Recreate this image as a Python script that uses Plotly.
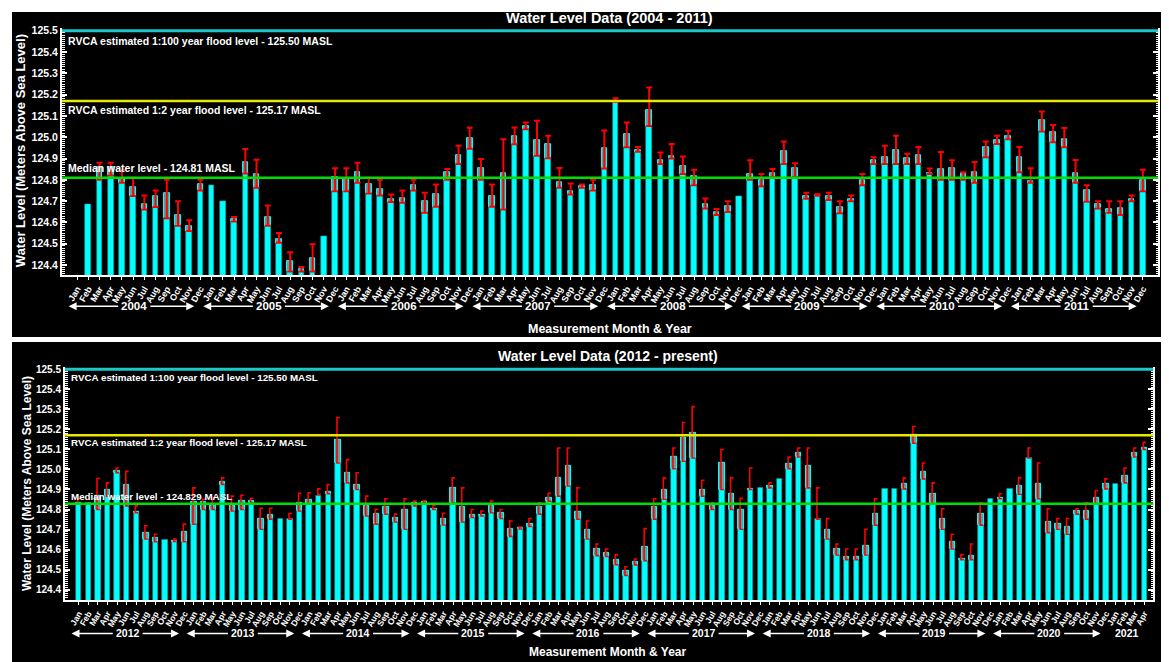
import plotly.graph_objects as go

MONTHS = ['Jan', 'Feb', 'Mar', 'Apr', 'May', 'Jun', 'Jul', 'Aug', 'Sep', 'Oct', 'Nov', 'Dec']

# ---------------- Panel A : 2004 - 2011 ----------------
years_a = [2004, 2005, 2006, 2007, 2008, 2009, 2010, 2011]
val_a = [
    None, 124.687, 124.86, 124.86, 124.81, 124.766, 124.688, 124.725, 124.736, 124.632, 124.584, 124.78,
    124.775, 124.70, 124.615, 124.883, 124.828, 124.626, 124.523, 124.417, 124.382, 124.433, 124.534, 124.814,
    124.81, 124.837, 124.78, 124.758, 124.711, 124.716, 124.775, 124.70, 124.731, 124.836, 124.917, 124.997,
    124.857, 124.725, 124.833, 125.005, 125.05, 124.987, 124.967, 124.79, 124.745, 124.77, 124.775, 124.951,
    125.17, 125.016, 124.937, 125.128, 124.892, 124.913, 124.864, 124.817, 124.687, 124.646, 124.677, 124.724,
    124.828, 124.799, 124.833, 124.934, 124.856, 124.724, 124.729, 124.721, 124.674, 124.711, 124.80, 124.892,
    124.907, 124.939, 124.901, 124.915, 124.833, 124.848, 124.856, 124.833, 124.837, 124.953, 124.987, 125.004,
    124.907, 124.794, 125.081, 125.023, 124.991, 124.833, 124.75, 124.688, 124.661, 124.666, 124.711, 124.80,
]
lo_a = [
    None, None, 124.80, 124.82, 124.786, 124.724, 124.661, 124.673, 124.62, 124.585, 124.56, 124.75,
    None, None, 124.604, 124.83, 124.763, 124.584, 124.505, 124.37, 124.37, 124.37, None, 124.747,
    124.747, 124.786, 124.736, 124.727, 124.696, 124.693, 124.75, 124.646, 124.674, 124.80, 124.875, 124.946,
    124.80, 124.674, 124.661, 124.967, 125.038, 124.913, 124.901, 124.763, 124.731, 124.763, 124.75, 124.853,
    125.165, 124.953, 124.932, 125.053, 124.875, 124.90, 124.828, 124.775, 124.666, 124.635, 124.649, None,
    124.80, 124.77, 124.814, 124.875, 124.814, 124.711, 124.725, 124.705, 124.643, 124.70, 124.775, 124.875,
    124.875, 124.875, 124.875, 124.875, 124.828, 124.80, 124.80, 124.80, 124.786, 124.906, 124.968, 124.991,
    124.836, 124.786, 125.027, 124.977, 124.953, 124.786, 124.697, 124.665, 124.646, 124.635, 124.70, 124.747,
]
hi_a = [
    None, None, 124.88, 124.88, 124.845, 124.81, 124.727, 124.75, 124.80, 124.70, 124.61, 124.80,
    None, None, 124.626, 124.945, 124.895, 124.68, 124.55, 124.46, 124.391, 124.498, None, 124.855,
    124.855, 124.88, 124.81, 124.80, 124.731, 124.75, 124.80, 124.739, 124.778, 124.851, 124.96, 125.045,
    124.898, 124.778, 124.991, 125.046, 125.069, 125.077, 125.007, 124.856, 124.783, 124.778, 124.80, 125.032,
    125.183, 125.069, 124.954, 125.234, 124.929, 124.968, 124.91, 124.848, 124.713, 124.663, 124.70, None,
    124.892, 124.828, 124.851, 124.98, 124.878, 124.739, 124.733, 124.739, 124.70, 124.727, 124.828, 124.906,
    124.96, 125.007, 124.923, 124.954, 124.853, 124.931, 124.892, 124.836, 124.884, 124.98, 125.007, 125.03,
    124.954, 124.855, 125.121, 125.057, 125.043, 124.893, 124.775, 124.70, 124.70, 124.70, 124.727, 124.848,
]

# ---------------- Panel B : 2012 - Apr 2021 ----------------
years_b = [2012, 2013, 2014, 2015, 2016, 2017, 2018, 2019, 2020, 2021]
val_b = [
    124.834, 124.834, 124.87, 124.90, 124.991, 124.922, 124.788, 124.682, 124.658, 124.649, 124.644, 124.689,
    124.84, 124.84, 124.82, 124.936, 124.818, 124.842, 124.842, 124.752, 124.773, 124.752, 124.752, 124.831,
    124.846, 124.867, 124.887, 125.148, 124.983, 124.925, 124.82, 124.777, 124.813, 124.757, 124.801, 124.831,
    124.837, 124.804, 124.755, 124.908, 124.813, 124.773, 124.773, 124.818, 124.784, 124.705, 124.707, 124.73,
    124.813, 124.859, 124.958, 125.019, 124.79, 124.697, 124.606, 124.583, 124.55, 124.496, 124.537, 124.616,
    124.813, 124.897, 125.062, 125.156, 125.181, 124.897, 124.818, 125.032, 124.876, 124.80, 124.903, 124.907,
    124.917, 124.953, 125.029, 125.082, 125.016, 124.752, 124.697, 124.606, 124.566, 124.566, 124.619, 124.777,
    124.905, 124.905, 124.93, 125.173, 124.986, 124.876, 124.752, 124.639, 124.553, 124.57, 124.777, 124.854,
    124.86, 124.903, 124.92, 125.057, 124.93, 124.738, 124.727, 124.715, 124.793, 124.793, 124.856, 124.93,
    124.93, 124.97, 125.082, 125.11,
]
lo_b = [
    124.829, None, 124.80, 124.867, 124.983, 124.818, 124.784, 124.653, 124.639, None, 124.641, 124.639,
    124.727, 124.80, 124.80, 124.925, 124.793, 124.80, 124.834, 124.702, 124.752, None, 124.752, 124.793,
    124.826, 124.876, 124.879, 125.032, 124.933, 124.90, 124.768, 124.727, 124.777, 124.738, 124.702, 124.818,
    124.835, 124.80, 124.723, 124.834, 124.738, 124.76, 124.768, 124.784, 124.755, 124.666, 124.703, 124.715,
    124.777, 124.842, 124.867, 124.917, 124.752, 124.653, 124.57, 124.566, 124.525, 124.471, 124.524, 124.545,
    124.752, 124.851, 125.003, 125.041, 125.057, 124.867, 124.80, 124.90, 124.80, 124.702, 124.90, None,
    124.908, None, 125.004, 125.062, 124.908, 124.752, 124.653, 124.573, 124.55, 124.55, 124.573, 124.722,
    None, None, 124.903, 125.131, 124.953, 124.826, 124.702, 124.603, 124.55, 124.55, 124.722, None,
    124.854, None, 124.876, 125.057, 124.854, 124.685, 124.702, 124.677, 124.777, 124.752, 124.826, 124.903,
    None, 124.933, 125.062, 125.099,
]
hi_b = [
    124.854, None, 124.955, 124.933, 125.007, 124.991, 124.818, 124.719, 124.677, None, 124.653, 124.727,
    124.908, 124.851, 124.859, 124.958, 124.867, 124.871, 124.856, 124.806, 124.806, None, 124.78, 124.881,
    124.884, 124.903, 124.925, 125.259, 125.049, 124.983, 124.867, 124.801, 124.854, 124.777, 124.854, 124.842,
    124.845, 124.82, 124.781, 124.958, 124.908, 124.80, 124.793, 124.842, 124.80, 124.743, 124.713, 124.755,
    124.834, 124.881, 125.107, 125.107, 124.908, 124.743, 124.628, 124.603, 124.575, 124.515, 124.553, 124.705,
    124.854, 124.958, 125.107, 125.234, 125.313, 124.946, 124.834, 125.099, 124.958, 124.856, 125.007, None,
    124.933, None, 125.062, 125.107, 125.107, 124.908, 124.755, 124.628, 124.603, 124.603, 124.702, 124.854,
    None, None, 124.958, 125.214, 125.032, 124.933, 124.804, 124.677, 124.575, 124.628, 124.834, None,
    124.879, None, 124.958, 125.107, 125.032, 124.804, 124.755, 124.755, 124.804, 124.834, 124.895, 124.953,
    None, 125.007, 125.107, 125.135,
]

# reference levels
flood_100 = 125.50
flood_2 = 125.17
median_a = 124.81
median_b = 124.829
y_ticks = [124.4, 124.5, 124.6, 124.7, 124.8, 124.9, 125.0, 125.1, 125.2, 125.3, 125.4, 125.5]

# page geometry (browser body has an 8 px margin)
PAGE_W, PAGE_H = 1169, 662
OFF = 8
W, H = PAGE_W - OFF, PAGE_H - OFF
def px(x):
    return (x - OFF) / W
def py(y):
    return min(1.0, 1 - (y - OFF) / H)

CYAN = '#00ffff'
WHITE = 'white'
FONT = 'Liberation Sans, Arial, sans-serif'

fig = go.Figure()

def add_panel(vals, los, his, xa, ya, width, bracket):
    n = len(vals)
    idx = list(range(n))
    fig.add_trace(go.Bar(x=idx, y=vals, width=width, xaxis=xa, yaxis=ya,
                         marker=dict(color=CYAN, line=dict(color='#178f8f', width=0.6)),
                         showlegend=False, hoverinfo='skip'))
    gh, gb = [], []
    for v, l in zip(vals, los):
        if v is not None and l is not None and l < v:
            gh.append(v - l); gb.append(l)
        else:
            gh.append(None); gb.append(0)
    fig.add_trace(go.Bar(x=idx, y=gh, base=gb, width=width, xaxis=xa, yaxis=ya,
                         marker=dict(color='#6c9a9a', line=dict(color=CYAN, width=1)),
                         showlegend=False, hoverinfo='skip'))
    ex = [i for i in idx if los[i] is not None and his[i] is not None]
    if not bracket:
        fig.add_trace(go.Scatter(
            x=ex, y=[(los[i] + his[i]) / 2 for i in ex], mode='markers', xaxis=xa, yaxis=ya,
            marker=dict(size=1, color='rgba(0,0,0,0)'),
            error_y=dict(type='data', symmetric=True, array=[(his[i] - los[i]) / 2 for i in ex],
                         color='#ff0000', thickness=2, width=3),
            showlegend=False, hoverinfo='skip'))
    else:
        bx, by = [], []
        for i in ex:
            bx += [i + 0.2, i - 0.1, i - 0.1, i + 0.2, None]
            by += [his[i], his[i], los[i], los[i], None]
        fig.add_trace(go.Scatter(x=bx, y=by, mode='lines', xaxis=xa, yaxis=ya,
                                 line=dict(color='#ff0000', width=1.6),
                                 showlegend=False, hoverinfo='skip'))

add_panel(val_a, lo_a, hi_a, 'x', 'y', 0.5, False)
add_panel(val_b, lo_b, hi_b, 'x2', 'y2', 0.55, True)

def xaxis_cfg(n, dom, rng, fs):
    return dict(domain=dom, range=rng, tickmode='array', tickvals=list(range(n)),
                ticktext=[MONTHS[i % 12] for i in range(n)], tickangle=-60,
                tickfont=dict(color=WHITE, size=fs, family=FONT, weight='bold'),
                ticks='outside', ticklen=3, tickcolor=WHITE, showline=True, linecolor=WHITE,
                linewidth=2, showgrid=False, zeroline=False)

def yaxis_cfg(dom, rng, fs, anchor):
    return dict(domain=dom, range=rng, anchor=anchor, tickmode='array', tickvals=y_ticks,
                ticktext=['%.1f' % t for t in y_ticks],
                tickfont=dict(color=WHITE, size=fs, family=FONT, weight='bold'),
                ticks='inside', ticklen=5, tickwidth=1.5, tickcolor=WHITE,
                minor=dict(dtick=0.01, tick0=124.4, ticks='inside', ticklen=2.5, tickwidth=1,
                           tickcolor=WHITE, showgrid=False),
                showline=True, linecolor=WHITE, linewidth=2, mirror='allticks',
                showgrid=False, zeroline=False)

layout = dict(
    width=W, height=H, margin=dict(l=0, r=0, t=0, b=0),
    paper_bgcolor='white', plot_bgcolor='black', barmode='overlay', bargap=0,
    xaxis=dict(**xaxis_cfg(96, [px(62), px(1158)], [-1.34, 96.35], 9), anchor='y'),
    yaxis=yaxis_cfg([py(272.7), py(24.3)], [124.353, 125.512], 10.5, 'x'),
    xaxis2=dict(**xaxis_cfg(112, [px(65), px(1153.3)], [-1.43, 111.94], 8.5), anchor='y2'),
    yaxis2=yaxis_cfg([py(600), py(365)], [124.347, 125.5115], 10, 'x2'),
)
fig.update_layout(**layout)

shapes = [
    dict(type='rect', xref='paper', yref='paper', x0=px(12), x1=px(1166), y0=py(335), y1=py(4),
         fillcolor='black', line=dict(width=0), layer='below'),
    dict(type='rect', xref='paper', yref='paper', x0=px(12), x1=px(1166), y0=0, y1=py(340),
         fillcolor='black', line=dict(width=0), layer='below'),
]
for xr, yr, med in (('x', 'y', median_a), ('x2', 'y2', median_b)):
    for lvl, col, wd in ((flood_100, '#19c9c9', 3), (flood_2, '#e8e800', 2.5), (med, '#00dd00', 2.5)):
        shapes.append(dict(type='line', xref=xr + ' domain', yref=yr, x0=0, x1=1, y0=lvl, y1=lvl,
                           line=dict(color=col, width=wd), layer='above'))
fig.update_layout(shapes=shapes)

ann = []
def text(x, y, s, size, anchor='center', angle=0, bold=True):
    ann.append(dict(x=px(x), y=py(y), xref='paper', yref='paper', text=s, showarrow=False,
                    xanchor=anchor, yanchor='middle', textangle=angle,
                    font=dict(color=WHITE, size=size, family=FONT, weight='bold' if bold else 'normal')))

# titles
text(609, 14, 'Water Level Data (2004 - 2011)', 14.5)
text(608, 354, 'Water Level Data (2012 - present)', 14)
text(610, 326.5, 'Measurement Month & Year', 12.5)
text(607, 651.5, 'Measurement Month & Year', 12)
text(20, 148, 'Water Level (Meters Above Sea Level)', 13, angle=-90)
text(27, 483, 'Water Level (Meters Above Sea Level)', 12, angle=-90)
# reference line labels
text(66, 36.7, 'RVCA estimated 1:100 year flood level - %.2f MASL' % flood_100, 10.5, 'left')
text(66, 106.5, 'RVCA estimated 1:2 year flood level - %.2f MASL' % flood_2, 10.5, 'left')
text(66, 165, 'Median water level - %.2f MASL' % median_a, 10.5, 'left')
text(69, 375.7, 'RVCA estimated 1:100 year flood level - %.2f MASL' % flood_100, 9.8, 'left')
text(69, 441, 'RVCA estimated 1:2 year flood level - %.2f MASL' % flood_2, 9.8, 'left')
text(69, 495, 'Median water level - %.3f MASL' % median_b, 9.8, 'left')

def year_labels(years, nmonths, xr, yr, ydom, fs, gap):
    for k, yv in enumerate(years):
        s = 12 * k
        months_in = min(12, nmonths - s)
        center = s + 5.1 if months_in == 12 else s + 1.2
        ann.append(dict(x=center, y=ydom, xref=xr, yref=yr + ' domain', text=str(yv), showarrow=False,
                        xanchor='center', yanchor='middle',
                        font=dict(color=WHITE, size=fs, family=FONT, weight='bold')))
        if months_in == 12:
            for head, tail in ((s - 0.75, center - gap), (s + 10.45, center + gap)):
                ann.append(dict(x=head, y=ydom, xref=xr, yref=yr + ' domain', ax=tail, ay=ydom,
                                axref=xr, ayref=yr + ' domain', text='', showarrow=True,
                                arrowhead=2, arrowsize=1, arrowwidth=1.6, arrowcolor=WHITE,
                                standoff=0, startstandoff=0))

year_labels(years_a, 96, 'x', 'y', -0.126, 11.5, 1.3)
year_labels(years_b, 112, 'x2', 'y2', -0.1417, 10.5, 1.4)

fig.update_layout(annotations=ann)
fig.write_html('out.html')
